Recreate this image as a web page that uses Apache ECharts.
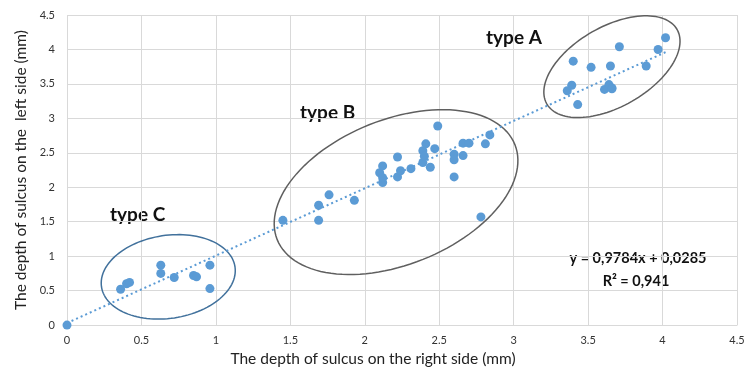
<!DOCTYPE html>
<html>
<head>
<meta charset="utf-8">
<script src="https://cdn.jsdelivr.net/npm/echarts@6/dist/echarts.min.js"></script>
<style>
html,body{margin:0;padding:0;background:#fff;}
#main{width:749px;height:372px;}
</style>
</head>
<body>
<div id="main"></div>
<script>
// ---- data ----
var originX = [0];
var originY = [0];
var typeCx = [0.36, 0.40, 0.42, 0.63, 0.63, 0.72, 0.85, 0.87, 0.96, 0.96];
var typeCy = [0.52, 0.60, 0.62, 0.87, 0.75, 0.69, 0.72, 0.70, 0.87, 0.53];
var typeBx = [1.45, 1.69, 1.69, 1.76, 1.93, 2.10, 2.12, 2.12, 2.12, 2.22, 2.22, 2.24, 2.31, 2.39, 2.39, 2.41, 2.40, 2.44, 2.47, 2.49, 2.60, 2.60, 2.60, 2.66, 2.66, 2.70, 2.81, 2.84, 2.78];
var typeBy = [1.52, 1.74, 1.52, 1.89, 1.81, 2.21, 2.31, 2.07, 2.14, 2.44, 2.15, 2.24, 2.27, 2.36, 2.53, 2.63, 2.45, 2.29, 2.56, 2.89, 2.48, 2.40, 2.15, 2.46, 2.64, 2.64, 2.63, 2.76, 1.57];
var typeAx = [3.40, 3.52, 3.65, 3.71, 3.89, 3.97, 4.02, 3.39, 3.36, 3.43, 3.61, 3.64, 3.66, 3.66];
var typeAy = [3.83, 3.74, 3.76, 4.04, 3.76, 4.00, 4.17, 3.48, 3.40, 3.20, 3.42, 3.49, 3.44, 3.43];
var trendX = [0, 4.02];
var trendY = [0.03, 3.96];
var xTicks = ['0', '0.5', '1', '1.5', '2', '2.5', '3', '3.5', '4', '4.5'];
var yTicks = ['0', '0.5', '1', '1.5', '2', '2.5', '3', '3.5', '4', '4.5'];
var groupNames = ['type A', 'type B', 'type C'];
var equationLines = ['y = 0,9784x + 0,0285', 'R² = 0,941'];
var xAxisTitle = 'The depth of sulcus on the right side (mm)';
var yAxisTitle = 'The depth of sulcus on the  left side (mm)';

// ---- annotation geometry (pixels for radii, data units for centres) ----
var ellipseCfg = [
  {center: [3.66, 3.75], a: 75, b: 40, angle: 29.7, color: '#5f5f5f'},
  {center: [2.21, 1.93], a: 128, b: 72.5, angle: 21.8, color: '#5f5f5f'},
  {center: [0.68, 0.70], a: 67.5, b: 41.5, angle: 8.6, color: '#41719C'}
];

function zip(xs, ys) { return xs.map(function (x, i) { return [x, ys[i]]; }); }
var allPoints = zip(originX, originY).concat(zip(typeCx, typeCy), zip(typeBx, typeBy), zip(typeAx, typeAy));

var chart = echarts.init(document.getElementById('main'), null, {renderer: 'canvas'});
var FONT = 'Lato, "Open Sans", sans-serif';

function ellipseSeries(cfg) {
  return {
    type: 'custom',
    coordinateSystem: 'cartesian2d',
    clip: false,
    silent: true,
    z: 1,
    data: [cfg.center],
    renderItem: function (params, api) {
      var c = api.coord([api.value(0), api.value(1)]);
      var th = cfg.angle * Math.PI / 180;
      var pts = [];
      for (var i = 0; i < 120; i++) {
        var t = i / 120 * Math.PI * 2;
        var ex = cfg.a * Math.cos(t), ey = cfg.b * Math.sin(t);
        pts.push([c[0] + ex * Math.cos(th) - ey * Math.sin(th),
                  c[1] - (ex * Math.sin(th) + ey * Math.cos(th))]);
      }
      return {
        type: 'polygon',
        shape: {points: pts},
        style: {fill: 'none', stroke: cfg.color, lineWidth: 1.5}
      };
    }
  };
}

var option = {
  animation: false,
  backgroundColor: '#ffffff',
  grid: {left: 67, right: 12, top: 15, bottom: 45, containLabel: false},
  xAxis: {
    type: 'value', min: 0, max: 4.5, interval: 0.5,
    name: xAxisTitle, nameLocation: 'middle', nameGap: 25,
    nameTextStyle: {fontFamily: FONT, fontSize: 15.5, color: '#222', padding: [0, 58, 0, 0]},
    axisLine: {show: true, lineStyle: {color: '#d9d9d9', width: 1}},
    axisTick: {show: false},
    axisLabel: {fontFamily: FONT, fontSize: 11, color: '#333', margin: 10,
      formatter: function (v) { return xTicks[Math.round(v / 0.5)]; }},
    splitLine: {show: true, lineStyle: {color: '#d9d9d9', width: 1}}
  },
  yAxis: {
    type: 'value', min: 0, max: 4.5, interval: 0.5,
    name: yAxisTitle, nameLocation: 'middle', nameGap: 37, nameRotate: 90,
    nameTextStyle: {fontFamily: FONT, fontSize: 15.5, color: '#222'},
    axisLine: {show: false},
    axisTick: {show: false},
    axisLabel: {fontFamily: FONT, fontSize: 11, color: '#333', margin: 12,
      formatter: function (v) { return yTicks[Math.round(v / 0.5)]; }},
    splitLine: {show: true, lineStyle: {color: '#d9d9d9', width: 1}}
  },
  series: [
    {
      type: 'line',
      data: zip(trendX, trendY),
      showSymbol: false,
      symbol: 'none',
      z: 2,
      lineStyle: {color: '#5B9BD5', width: 2, type: [2, 3]},
      silent: true
    },
    {
      type: 'scatter',
      data: allPoints,
      symbol: 'circle',
      symbolSize: 9,
      clip: false,
      z: 3,
      itemStyle: {color: '#5B9BD5', opacity: 1}
    },
    ellipseSeries(ellipseCfg[0]),
    ellipseSeries(ellipseCfg[1]),
    ellipseSeries(ellipseCfg[2])
  ],
  graphic: [
    {type: 'text', left: 486, top: 28, style: {text: groupNames[0], font: 'bold 19px ' + FONT, fill: '#111'}},
    {type: 'text', left: 300, top: 103, style: {text: groupNames[1], font: 'bold 19px ' + FONT, fill: '#111'}},
    {type: 'text', left: 110, top: 205, style: {text: groupNames[2], font: 'bold 19px ' + FONT, fill: '#111'}},
    {type: 'text', x: 638, y: 258, style: {text: equationLines[0], font: 'bold 14.5px ' + FONT, fill: '#111', align: 'center', verticalAlign: 'middle'}},
    {type: 'text', x: 636, y: 281, style: {text: equationLines[1], font: 'bold 14.5px ' + FONT, fill: '#111', align: 'center', verticalAlign: 'middle'}}
  ]
};
chart.setOption(option);
</script>
</body>
</html>
